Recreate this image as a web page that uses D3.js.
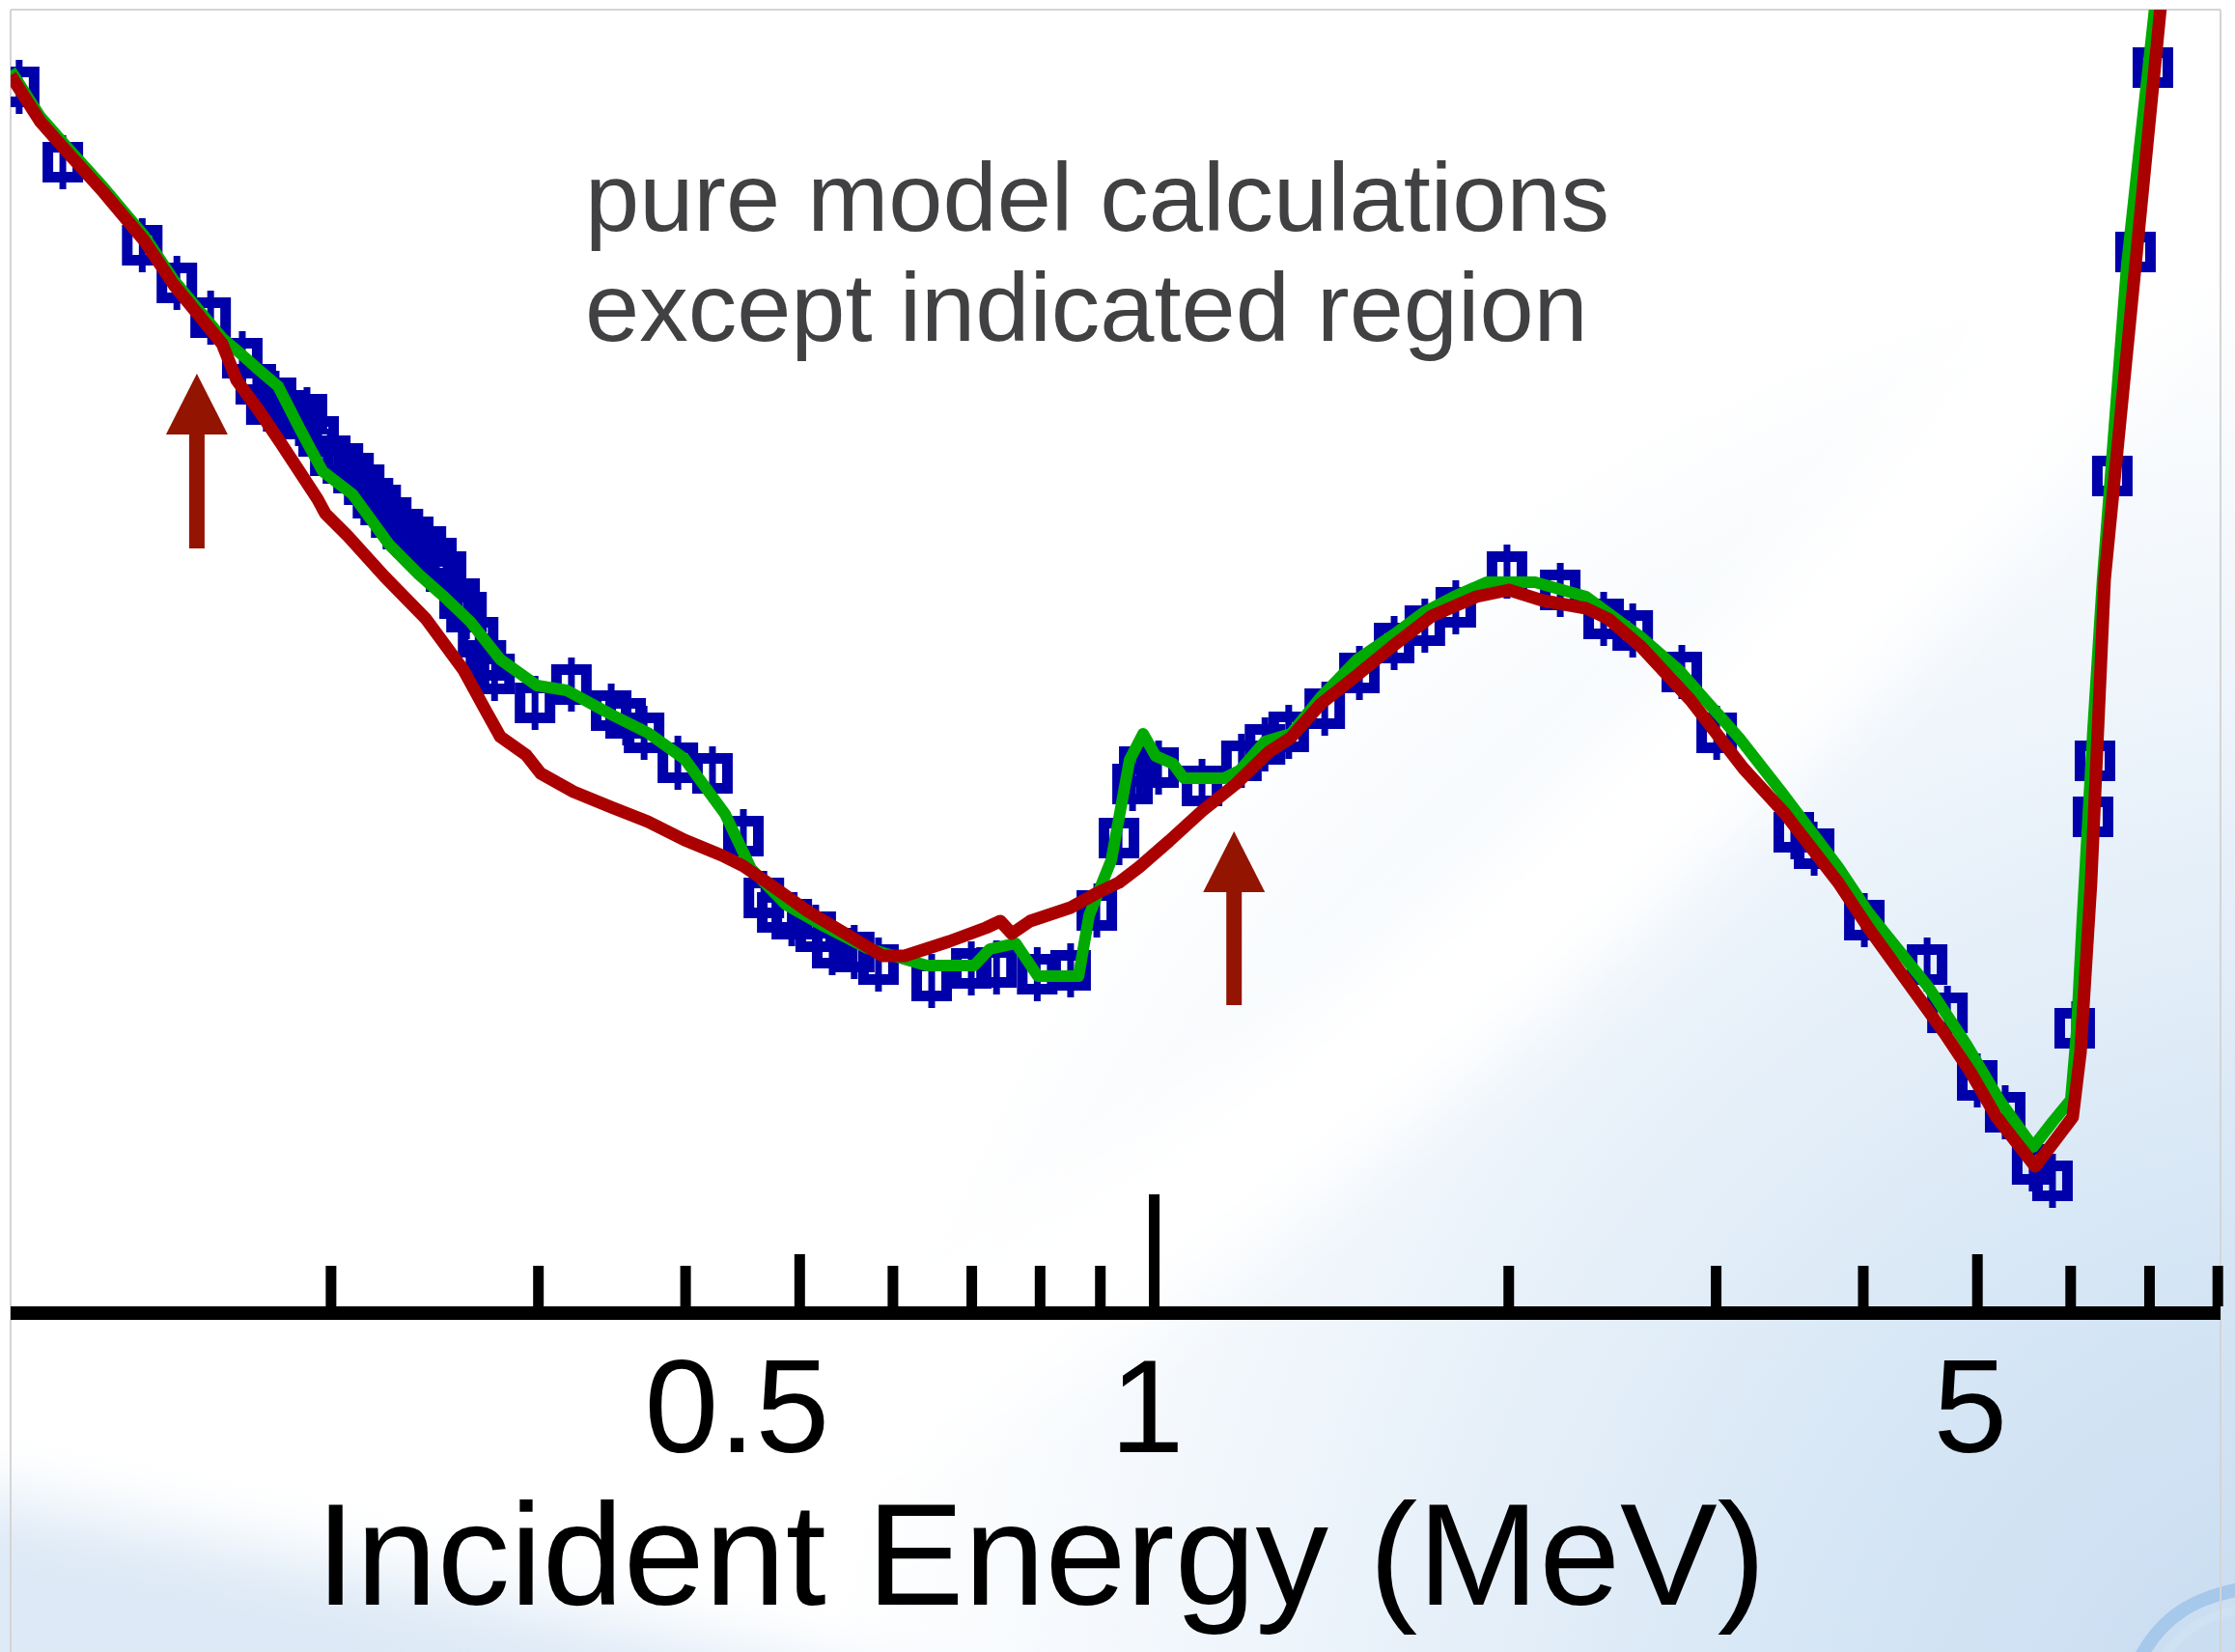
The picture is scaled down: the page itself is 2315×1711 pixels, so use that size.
<!DOCTYPE html>
<html>
<head>
<meta charset="utf-8">
<script src="https://cdn.jsdelivr.net/npm/d3@7"></script>
<style>
  html, body { margin: 0; padding: 0; background: #fff; }
  svg { display: block; }
  text { font-family: "Liberation Sans", Arial, Helvetica, sans-serif; }
</style>
</head>
<body>
<div id="chart"></div>
<script>
(function () {

    // --- data (energy in MeV, cross section in arbitrary units) ---
    const dataEnergy = [0.1088, 0.1185, 0.1384, 0.1481, 0.1582, 0.1683, 0.1728, 0.1764, 0.1798, 0.1836,
        0.1878, 0.1910, 0.1954, 0.1999, 0.2049, 0.2092, 0.2136, 0.2173, 0.2206, 0.2252,
        0.2304, 0.2351, 0.2410, 0.2460, 0.2507, 0.2574, 0.2609, 0.2669, 0.2710, 0.2756,
        0.2983, 0.3203, 0.3462, 0.3561, 0.3692, 0.3944, 0.4220, 0.4483, 0.4666, 0.4790,
        0.4928, 0.5164, 0.5333, 0.5568, 0.5838, 0.6478, 0.7000, 0.7354, 0.7963, 0.8500,
        0.8947, 0.9344, 0.9594, 0.9721, 1.0095, 1.099, 1.187, 1.243, 1.302, 1.397,
        1.495, 1.600, 1.699, 1.805, 1.995, 2.214, 2.410, 2.551, 2.808, 3.006,
        3.495, 3.637, 4.012, 4.536, 4.720, 5.003, 5.284, 5.570, 5.796, 6.053,
        6.274, 6.298, 6.515, 6.817, 7.053];
    const dataSigma = [12.70, 11.92, 11.06, 10.67, 10.31, 9.89, 9.62, 9.41, 9.48, 9.35,
        9.26, 9.31, 9.08, 8.88, 8.80, 8.70, 8.58, 8.44, 8.37, 8.24,
        8.12, 8.04, 7.94, 7.82, 7.68, 7.40, 7.26, 7.00, 6.76, 6.62,
        6.32, 6.51, 6.24, 6.16, 6.01, 5.70, 5.59, 4.94, 4.30, 4.15,
        4.08, 3.95, 3.78, 3.74, 3.61, 3.44, 3.57, 3.58, 3.51, 3.55,
        4.17, 4.92, 5.48, 5.66, 5.65, 5.46, 5.72, 5.89, 6.02, 6.26,
        6.63, 6.94, 7.12, 7.31, 7.68, 7.49, 7.19, 7.07, 6.64, 6.01,
        4.98, 4.81, 4.07, 3.61, 3.11, 2.41, 2.08, 1.54, 1.37, 2.95,
        5.14, 5.72, 8.67, 10.99, 12.90];
    const dataError = 0.28;

    // green: calculation with fitted (indicated) region
    const fitEnergy = [0.1070, 0.1134, 0.1194, 0.1283, 0.1389, 0.1472, 0.1618, 0.1680, 0.1738, 0.1805,
        0.1885, 0.1969, 0.2088, 0.2243, 0.2377, 0.2497, 0.2629, 0.2787, 0.2994, 0.3173,
        0.3462, 0.3720, 0.3996, 0.4325, 0.4552, 0.4873, 0.5244, 0.5707, 0.6417, 0.7039,
        0.7256, 0.7635, 0.7972, 0.8633, 0.8813, 0.9203, 0.9539, 0.9794, 1.0038, 1.0385,
        1.0603, 1.1476, 1.1832, 1.2430, 1.3074, 1.3864, 1.4893, 1.5999, 1.6963, 1.7983,
        1.9179, 2.1078, 2.3289, 2.5935, 2.7925, 3.1445, 3.4104, 3.8122, 4.0438, 4.5520,
        4.8996, 5.2349, 5.5806, 5.8058, 6.0070, 6.0752, 6.1442, 6.2730, 6.3928, 6.703,
        7.079];
    const fitSigma = [12.87, 12.39, 12.08, 11.66, 11.16, 10.70, 10.10, 9.93, 9.77, 9.60,
        9.15, 8.72, 8.48, 7.96, 7.65, 7.42, 7.16, 6.77, 6.50, 6.45,
        6.20, 6.01, 5.74, 5.17, 4.60, 4.23, 4.01, 3.78, 3.60, 3.60,
        3.77, 3.83, 3.49, 3.49, 4.12, 4.69, 5.73, 6.00, 5.77, 5.69,
        5.54, 5.54, 5.62, 5.92, 6.00, 6.38, 6.77, 7.03, 7.26, 7.42,
        7.57, 7.57, 7.42, 7.00, 6.66, 5.95, 5.40, 4.62, 4.15, 3.37,
        2.78, 2.19, 1.72, 1.99, 2.21, 2.90, 4.07, 6.03, 7.60, 10.86,
        13.52];

    // red: pure model calculation
    const pureEnergy = [0.1070, 0.1134, 0.1194, 0.1283, 0.1389, 0.1472, 0.1618, 0.1665, 0.1738, 0.1815,
        0.1950, 0.1980, 0.2068, 0.2222, 0.2410, 0.2594, 0.2709, 0.2787, 0.2932, 0.3016,
        0.3216, 0.3462, 0.3720, 0.3996, 0.4300, 0.4483, 0.4736, 0.5087, 0.5474, 0.5884,
        0.6145, 0.6705, 0.7201, 0.7408, 0.7577, 0.7853, 0.8500, 0.8947, 0.9344, 0.9721,
        1.0307, 1.0990, 1.1741, 1.2518, 1.3074, 1.3864, 1.4893, 1.5999, 1.7222, 1.8785,
        2.0022, 2.1398, 2.3289, 2.4324, 2.5935, 2.8556, 3.1685, 3.4365, 3.8122, 4.0438,
        4.6921, 4.9357, 5.1952, 5.6025, 5.7849, 6.0292, 6.1221, 6.2500, 6.4180, 6.8171,
        7.1596];
    const pureSigma = [12.82, 12.34, 12.03, 11.61, 11.11, 10.65, 10.04, 9.66, 9.35, 9.01,
        8.43, 8.28, 8.05, 7.63, 7.19, 6.66, 6.24, 5.97, 5.78, 5.59,
        5.40, 5.24, 5.09, 4.90, 4.74, 4.63, 4.43, 4.16, 3.93, 3.70,
        3.70, 3.85, 3.99, 4.06, 3.93, 4.06, 4.20, 4.35, 4.46, 4.62,
        4.89, 5.20, 5.48, 5.81, 5.96, 6.31, 6.61, 6.92, 7.22, 7.42,
        7.49, 7.38, 7.30, 7.19, 6.90, 6.35, 5.64, 5.17, 4.46, 3.99,
        2.90, 2.50, 2.03, 1.52, 1.74, 2.03, 2.70, 4.46, 7.60, 10.86,
        13.52];

    // arrows marking the fitted region
    const arrowEnergy = [0.154, 1.17];
    const arrowTip = [9.73, 4.99];
    const arrowTail = [7.92, 3.19];

    // axis ticks
    const minorTicks = [0.2, 0.3, 0.4, 0.6, 0.7, 0.8, 0.9, 2, 3, 4, 6, 7, 8];
    const midTicks = [0.5, 5];
    const majorTicks = [1];
    const labelTicks = [0.5, 1, 5];

    const noteLines = ["pure model calculations", "except indicated region"];
    const xTitle = "Incident Energy (MeV)";

    // --- setup ---
    const W = 2315, H = 1711;
    const left = 11, right = 2300, top = 10, axisTop = 1353;

    const svg = d3.select("#chart").append("svg")
        .attr("width", W)
        .attr("height", H);

    const x = d3.scaleLog().domain([0.107, 8.05]).range([left, right]);
    const y = d3.scaleLinear().domain([0, 13.6]).range([1360, 0]);

    // background (slide template: white with pale blue sweep)
    const defs = svg.append("defs");
    const glow = defs.append("radialGradient")
        .attr("id", "bgGlow")
        .attr("gradientUnits", "userSpaceOnUse")
        .attr("cx", 2450).attr("cy", 1850).attr("r", 2000);
    glow.append("stop").attr("offset", 0).attr("stop-color", "#c4d9ef");
    glow.append("stop").attr("offset", 0.3).attr("stop-color", "#d6e6f5");
    glow.append("stop").attr("offset", 0.62).attr("stop-color", "#f2f7fc");
    glow.append("stop").attr("offset", 0.8).attr("stop-color", "#ffffff");

    defs.append("filter").attr("id", "soft")
        .attr("x", "-20%").attr("y", "-20%").attr("width", "140%").attr("height", "140%")
        .append("feGaussianBlur").attr("stdDeviation", 35);

    defs.append("clipPath").attr("id", "plotClip")
        .append("rect")
        .attr("x", left).attr("y", top)
        .attr("width", right - left).attr("height", axisTop - top);

    svg.append("rect").attr("width", W).attr("height", H).attr("fill", "#fff");
    svg.append("rect").attr("width", W).attr("height", H).attr("fill", "url(#bgGlow)");

    // white sweep band
    svg.append("path")
        .attr("d", "M2500,-150 C1950,700 1250,1420 150,1780")
        .attr("fill", "none")
        .attr("stroke", "#ffffff")
        .attr("stroke-width", 170)
        .attr("filter", "url(#soft)");

    // pale tint in the lower-left corner
    svg.append("path")
        .attr("d", "M-60,1540 C300,1610 700,1690 1050,1780 L-60,1780 Z")
        .attr("fill", "#dde9f6")
        .attr("filter", "url(#soft)");

    // bottom-right swoosh
    svg.append("path")
        .attr("d", "M2218,1715 C2240,1675 2272,1655 2320,1646")
        .attr("fill", "none")
        .attr("stroke", "#a6c8ea")
        .attr("stroke-width", 14);
    svg.append("path")
        .attr("d", "M2242,1715 C2260,1688 2287,1673 2320,1667")
        .attr("fill", "none")
        .attr("stroke", "#cfe2f4")
        .attr("stroke-width", 9);

    // slide frame
    const frame = svg.append("g").attr("stroke", "#d4d4d4").attr("stroke-width", 2).attr("fill", "none");
    frame.append("line").attr("x1", left).attr("x2", right).attr("y1", top).attr("y2", top);
    frame.append("line").attr("x1", left).attr("x2", left).attr("y1", top).attr("y2", H);
    frame.append("line").attr("x1", right).attr("x2", right).attr("y1", top).attr("y2", H);

    // note text
    svg.append("g")
        .selectAll("text")
        .data(noteLines)
        .join("text")
        .attr("x", 606)
        .attr("y", (d, i) => 239 + i * 114)
        .attr("font-size", 101)
        .attr("fill", "#414042")
        .text(d => d);

    // --- plot marks ---
    const plot = svg.append("g").attr("clip-path", "url(#plotClip)");

    const points = dataEnergy.map((e, i) => ({ e: e, s: dataSigma[i] }));
    const side = 31;

    // error bars
    plot.append("g")
        .selectAll("line")
        .data(points)
        .join("line")
        .attr("x1", d => x(d.e))
        .attr("x2", d => x(d.e))
        .attr("y1", d => y(d.s + dataError))
        .attr("y2", d => y(d.s - dataError))
        .attr("stroke", "#0000aa")
        .attr("stroke-width", 7);

    // open squares
    plot.append("g")
        .selectAll("rect")
        .data(points)
        .join("rect")
        .attr("x", d => x(d.e) - side / 2)
        .attr("y", d => y(d.s) - side / 2)
        .attr("width", side)
        .attr("height", side)
        .attr("fill", "none")
        .attr("stroke", "#0000aa")
        .attr("stroke-width", 11);

    const line = d3.line()
        .x(d => x(d[0]))
        .y(d => y(d[1]));

    plot.append("path")
        .datum(fitEnergy.map((e, i) => [e, fitSigma[i]]))
        .attr("d", line)
        .attr("fill", "none")
        .attr("stroke", "#00aa00")
        .attr("stroke-width", 12)
        .attr("stroke-linejoin", "round");

    plot.append("path")
        .datum(pureEnergy.map((e, i) => [e, pureSigma[i]]))
        .attr("d", line)
        .attr("fill", "none")
        .attr("stroke", "#aa0000")
        .attr("stroke-width", 13)
        .attr("stroke-linejoin", "round");

    // arrows
    const arrows = arrowEnergy.map((e, i) => ({ e: e, tip: arrowTip[i], tail: arrowTail[i] }));
    const arrowG = plot.append("g").attr("fill", "#931400");
    arrowG.selectAll("rect")
        .data(arrows)
        .join("rect")
        .attr("x", d => x(d.e) - 8)
        .attr("y", d => y(d.tip) + 55)
        .attr("width", 16)
        .attr("height", d => y(d.tail) - y(d.tip) - 55);
    arrowG.selectAll("path")
        .data(arrows)
        .join("path")
        .attr("d", d => {
            const cx = x(d.e), ty = y(d.tip);
            return `M${cx},${ty} L${cx + 32},${ty + 63} L${cx - 32},${ty + 63} Z`;
        });

    // --- x axis ---
    const axisG = svg.append("g").attr("transform", `translate(0,${axisTop})`);

    const addTicks = (values, len) => {
        const g = axisG.append("g")
            .call(d3.axisTop(x).tickValues(values).tickSize(len).tickFormat(""));
        g.select(".domain").remove();
        g.selectAll(".tick line").attr("stroke", "#000").attr("stroke-width", 11);
    };
    addTicks(minorTicks, 42);
    addTicks(midTicks, 54);
    addTicks(majorTicks, 116);

    axisG.append("line")
        .attr("x1", left).attr("x2", right)
        .attr("y1", 7).attr("y2", 7)
        .attr("stroke", "#000")
        .attr("stroke-width", 14);

    const labelG = axisG.append("g")
        .call(d3.axisBottom(x).tickValues(labelTicks).tickSize(0).tickFormat(d3.format("")));
    labelG.select(".domain").remove();
    labelG.selectAll(".tick text")
        .attr("x", 31)
        .attr("y", 151)
        .attr("dy", 0)
        .attr("text-anchor", "end")
        .attr("font-family", "'Liberation Sans', Arial, sans-serif")
        .attr("font-size", 138)
        .attr("fill", "#000");

    svg.append("text")
        .attr("x", 1078)
        .attr("y", 1662)
        .attr("text-anchor", "middle")
        .attr("font-size", 151)
        .attr("fill", "#000")
        .text(xTitle);
})();
</script>
</body>
</html>
